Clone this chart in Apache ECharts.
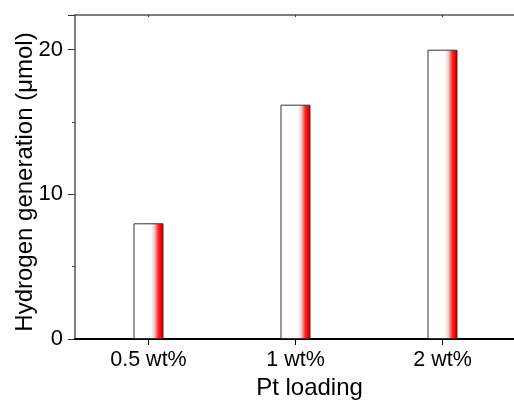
<!DOCTYPE html>
<html>
<head>
<meta charset="utf-8">
<script src="https://cdn.jsdelivr.net/npm/echarts@6/dist/echarts.min.js"></script>
<style>
  html, body { margin: 0; padding: 0; background: #fff; }
  #chart { width: 514px; height: 403px; }
</style>
</head>
<body>
<div id="chart"></div>
<script>
// Platinum loading levels and the hydrogen produced at each
const categories = ['0.5 wt%', '1 wt%', '2 wt%'];
const hydrogenValues = [8.0, 16.2, 20.0];
const yTicks = [0, 10, 20];

const FONT = 'Liberation Sans, Arial, Helvetica, sans-serif';

// White-to-red horizontal fill used on each bar
const barFill = new echarts.graphic.LinearGradient(0, 0, 1, 0, [
  { offset: 0, color: '#ffffff' },
  { offset: 0.58, color: '#ffffff' },
  { offset: 0.7, color: '#ffc4c4' },
  { offset: 0.82, color: '#ff2a2a' },
  { offset: 0.92, color: '#f40000' },
  { offset: 1, color: '#a80000' }
]);

const chart = echarts.init(document.getElementById('chart'), null, { renderer: 'canvas' });

chart.setOption({
  backgroundColor: '#ffffff',
  animation: false,
  grid: { left: 75, top: 15, width: 441, bottom: 64, containLabel: false, outerBoundsMode: 'none' },
  xAxis: [
    {
      type: 'category',
      data: categories,
      position: 'bottom',
      boundaryGap: true,
      name: 'Pt loading',
      nameLocation: 'middle',
      nameGap: 37,
      nameMoveOverlap: false,
      nameTextStyle: { fontFamily: FONT, fontSize: 24, color: '#000', padding: [0, 0, 0, 28] },
      axisLine: { show: true, lineStyle: { color: '#000', width: 2 } },
      axisTick: { show: true, alignWithLabel: true, inside: false, length: 6, lineStyle: { color: '#000', width: 1 } },
      axisLabel: { fontFamily: FONT, fontSize: 21.5, color: '#000', margin: 10 },
      splitLine: { show: false }
    },
    {
      type: 'category',
      data: categories,
      position: 'top',
      boundaryGap: true,
      axisLine: { show: true, lineStyle: { color: '#555', width: 1.5 } },
      axisTick: { show: true, alignWithLabel: true, inside: true, length: 2, lineStyle: { color: '#333', width: 1 } },
      axisLabel: { show: false },
      splitLine: { show: false }
    }
  ],
  yAxis: {
    type: 'value',
    min: yTicks[0],
    max: 22.4,
    interval: 10,
    name: 'Hydrogen generation (\u03bcmol)',
    nameLocation: 'middle',
    nameGap: 38,
    nameMoveOverlap: false,
    nameTextStyle: { fontFamily: FONT, fontSize: 24, color: '#000', padding: [0, 10, 0, 0] },
    axisLine: { show: true, lineStyle: { color: '#555', width: 1.5 } },
    axisTick: { show: true, inside: false, length: 7, lineStyle: { color: '#333', width: 1 } },
    minorTick: { show: true, splitNumber: 2, length: 3, lineStyle: { color: '#333', width: 1 } },
    axisLabel: {
      fontFamily: FONT, fontSize: 22, color: '#000', margin: 12,
      formatter: function (v) { return yTicks.indexOf(v) >= 0 ? String(v) : ''; }
    },
    splitLine: { show: false }
  },
  series: [
    {
      type: 'bar',
      xAxisIndex: 0,
      data: hydrogenValues,
      barWidth: 30,
      itemStyle: { color: barFill, borderColor: '#333', borderWidth: 1 }
    }
  ]
});
</script>
</body>
</html>
